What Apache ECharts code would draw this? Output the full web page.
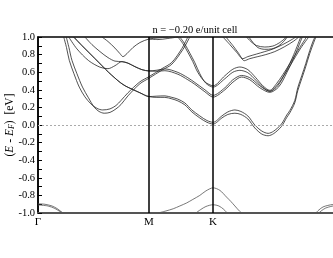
<!DOCTYPE html>
<html><head><meta charset="utf-8">
<script src="https://cdn.jsdelivr.net/npm/echarts@6/dist/echarts.min.js"></script>
<style>html,body{margin:0;padding:0;background:#fff}#c{width:333px;height:258px}</style>
</head><body><div id="c"></div>
<script>
const kPoints = [0, 1, 1.577, 2.732];
const kLabels = ['Γ', 'M', 'K', 'Γ'];
const yTickValues = [-1, -0.8, -0.6, -0.4, -0.2, 0, 0.2, 0.4, 0.6, 0.8, 1];
const yTickLabels = ['-1.0', '-0.8', '-0.6', '-0.4', '-0.2', '0.0', '0.2', '0.4', '0.6', '0.8', '1.0'];
const titleText = 'n = −0.20 e/unit cell';

// conduction bands [k, E]
const bandA1 = [[.232,1.0],[.257,.88],[.282,.735],[.324,.583],[.372,.431],[.423,.32],[.477,.24],[.532,.189],[.583,.171],[.649,.183],[.703,.221],[.748,.278],[.811,.366],[.919,.491],[1.0,.549],[1.117,.64],[1.207,.712],[1.297,.869],[1.351,1.0]];
const bandA2 = [[.255,1.0],[.279,.88],[.306,.735],[.351,.583],[.401,.431],[.455,.309],[.507,.202],[.55,.154],[.597,.134],[.649,.143],[.703,.183],[.748,.232],[.811,.331],[.919,.469],[1.0,.531],[1.117,.623],[1.207,.691],[1.306,.857],[1.369,1.0]];
const bandX1 = [[.277,1.0],[.351,.865],[.457,.731],[.559,.657],[.631,.64],[.694,.674],[.757,.72],[.811,.703],[.874,.663],[.937,.629],[1.0,.614],[1.072,.623],[1.144,.637],[1.261,.598],[1.351,.537],[1.414,.483],[1.505,.40],[1.579,.337],[1.685,.423],[1.757,.514],[1.835,.563],[1.91,.537],[2.0,.446],[2.09,.383],[2.162,.446],[2.234,.606],[2.306,.80],[2.369,1.0]];
const bandX2 = [[.423,1.0],[.486,.914],[.559,.834],[.631,.766],[.694,.726],[.757,.72],[.811,.703],[.874,.663],[.937,.629],[1.0,.614],[1.072,.611],[1.144,.617],[1.261,.577],[1.351,.514],[1.414,.463],[1.505,.377],[1.579,.317],[1.685,.40],[1.757,.486],[1.835,.545],[1.91,.514],[2.0,.423],[2.09,.371],[2.171,.434],[2.243,.594],[2.315,.789],[2.383,1.0]];
const bandY1 = [[.322,1.0],[.396,.903],[.514,.754],[.577,.674],[.637,.598],[.685,.543],[.741,.483],[.793,.44],[.847,.408],[.919,.366],[1.0,.323],[1.072,.328],[1.144,.331],[1.207,.314],[1.261,.294],[1.324,.251],[1.387,.171],[1.459,.103],[1.523,.051],[1.579,.031],[1.658,.103],[1.712,.149],[1.775,.171],[1.829,.154],[1.892,.103],[1.955,0],[2.018,-.069],[2.075,-.095],[2.126,-.069],[2.195,.011],[2.243,.114],[2.27,.163],[2.315,.278],[2.342,.423],[2.378,.56],[2.414,.697],[2.45,.846],[2.486,.971],[2.5,1.0]];
const bandY2 = [[.322,1.0],[.396,.903],[.514,.754],[.577,.674],[.637,.598],[.685,.543],[.741,.483],[.793,.44],[.847,.408],[.919,.366],[1.0,.323],[1.072,.314],[1.144,.314],[1.207,.297],[1.261,.274],[1.324,.229],[1.387,.149],[1.459,.08],[1.523,.031],[1.579,.011],[1.658,.08],[1.712,.12],[1.775,.134],[1.829,.12],[1.892,.069],[1.955,-.034],[2.018,-.103],[2.075,-.122],[2.126,-.097],[2.195,-.017],[2.243,.086],[2.27,.137],[2.315,.251],[2.342,.389],[2.378,.526],[2.414,.663],[2.45,.811],[2.486,.937],[2.505,1.0]];
const bandP1 = [[1.261,1.0],[1.306,.926],[1.351,.826],[1.396,.72],[1.441,.598],[1.505,.491],[1.579,.446],[1.685,.56],[1.757,.634],[1.82,.659],[1.892,.629],[1.964,.537],[2.027,.446],[2.09,.394],[2.15,.469],[2.207,.571],[2.27,.697],[2.36,.88],[2.421,1.0]];
const bandP2 = [[1.279,1.0],[1.324,.92],[1.369,.817],[1.414,.709],[1.459,.583],[1.514,.474],[1.579,.431],[1.685,.526],[1.757,.60],[1.82,.621],[1.892,.594],[1.964,.509],[2.027,.429],[2.09,.383],[2.158,.457],[2.216,.56],[2.279,.686],[2.369,.874],[2.441,1.0]];
const bandV1 = [[.577,1.0],[.631,.949],[.694,.874],[.739,.811],[.766,.777],[.802,.811],[.856,.88],[.919,.937],[1.0,.977],[1.081,.989],[1.171,1.0]];
const bandV2 = [[1.0,.977],[1.081,.971],[1.171,.983],[1.261,1.0]];
const bandW1 = [[1.667,1.0],[1.73,.914],[1.793,.823],[1.847,.754],[1.892,.777],[1.97,.806],[2.045,.834],[2.117,.863],[2.207,.914],[2.297,.977],[2.324,1.0]];
const bandW2 = [[1.694,1.0],[1.757,.903],[1.811,.811],[1.86,.731],[1.91,.754],[1.982,.777],[2.054,.80],[2.135,.834],[2.225,.891],[2.306,.954],[2.351,1.0]];
const bandU1 = [[1.88,1.0],[1.919,.949],[1.97,.903],[2.045,.886],[2.117,.897],[2.18,.937],[2.241,1.0]];
const bandU2 = [[1.901,1.0],[1.937,.94],[1.982,.88],[2.045,.86],[2.108,.865],[2.171,.90],[2.216,.95],[2.248,1.0]];
// valence bands
const valG1 = [[0,-.895],[.063,-.901],[.126,-.92],[.171,-.949],[.207,-.983],[.221,-1.0]];
const valG2 = [[0,-.909],[.09,-.92],[.153,-.949],[.198,-.983],[.234,-1.0]];
const valG3 = [[2.505,-1.0],[2.532,-.966],[2.57,-.931],[2.613,-.914],[2.658,-.903],[2.73,-.895]];
const valG4 = [[2.532,-1.0],[2.559,-.971],[2.595,-.943],[2.64,-.926],[2.685,-.914],[2.73,-.909]];
const valK1 = [[1.084,-1.0],[1.153,-.977],[1.219,-.952],[1.279,-.92],[1.34,-.886],[1.396,-.846],[1.459,-.80],[1.514,-.749],[1.579,-.714],[1.64,-.743],[1.7,-.819],[1.739,-.869],[1.775,-.92],[1.811,-.971],[1.835,-1.0]];
const valK2 = [[1.423,-1.0],[1.468,-.96],[1.514,-.926],[1.579,-.906],[1.631,-.92],[1.676,-.96],[1.705,-1.0]];

const darkBands = [bandA1, bandA2, bandX1, bandX2, bandY1, bandY2, bandP1, bandP2, bandV1, bandV2, bandW1, bandW2, bandU1, bandU2];
const greyBands = [valG1, valG2, valG3, valG4, valK1, valK2];

const serif = 'Liberation Serif';
const series = [];
darkBands.forEach(d => series.push({type:'line', data:d, symbol:'none', smooth:0.3, silent:true,
  lineStyle:{color:'#262626', width:0.8}}));
greyBands.forEach(d => series.push({type:'line', data:d, symbol:'none', smooth:0.3, silent:true,
  lineStyle:{color:'#555', width:0.8}}));
series.push({type:'line', data:[], silent:true, markLine:{silent:true, symbol:['none','none'], label:{show:false},
  data:[
    {yAxis:0, lineStyle:{color:'#aaa', type:[2,2], width:1}},
    {xAxis:kPoints[1], lineStyle:{color:'#000', type:'solid', width:1.5}},
    {xAxis:kPoints[2], lineStyle:{color:'#000', type:'solid', width:1.5}}
  ]}});

const chart = echarts.init(document.getElementById('c'), null, {renderer:'canvas'});
chart.setOption({
  animation:false,
  backgroundColor:'#fff',
  title:{text:titleText, left:190, textAlign:'center', top:20,
    textStyle:{fontFamily:serif, fontSize:10.5, fontWeight:'normal', color:'#000'}},
  grid:{left:38, right:-8, top:37, bottom:45, show:true, borderColor:'#000', borderWidth:1.5,
    outerBoundsMode:'none', containLabel:false},
  xAxis:{type:'value', min:0, max:kPoints[3],
    axisLine:{show:true, onZero:false, lineStyle:{color:'#555', width:2}},
    axisTick:{show:false}, splitLine:{show:false},
    axisLabel:{customValues:kPoints, margin:4, fontFamily:serif, fontSize:11, color:'#000',
      formatter:v => kLabels[kPoints.indexOf(v)] ?? ''}},
  yAxis:{type:'value', min:-1, max:1, interval:0.2,
    axisLine:{show:true, onZero:false, lineStyle:{color:'#000', width:1.5}},
    axisTick:{show:true, inside:true, length:4, lineStyle:{color:'#000'}},
    minorTick:{show:true, splitNumber:2, length:4, lineStyle:{color:'#000'}},
    splitLine:{show:false},
    axisLabel:{margin:3, fontFamily:serif, fontSize:10.5, color:'#000',
      formatter:v => yTickLabels[Math.round((v + 1) / 0.2)]},
    name:'{p|(}{i|E}{p| - }{i|E}{s|F}{p|)  [eV]}', nameLocation:'middle', nameRotate:90, nameGap:22,
    nameMoveOverlap:false,
    nameTextStyle:{fontFamily:serif, fontSize:11.5, color:'#000',
      rich:{p:{fontFamily:serif, fontSize:11.5, color:'#000'},
            i:{fontFamily:serif, fontSize:11.5, fontStyle:'italic', color:'#000'},
            s:{fontFamily:serif, fontSize:8, fontStyle:'italic', color:'#000', padding:[5,0,0,0]}}}},
  series:series
});
</script></body></html>
